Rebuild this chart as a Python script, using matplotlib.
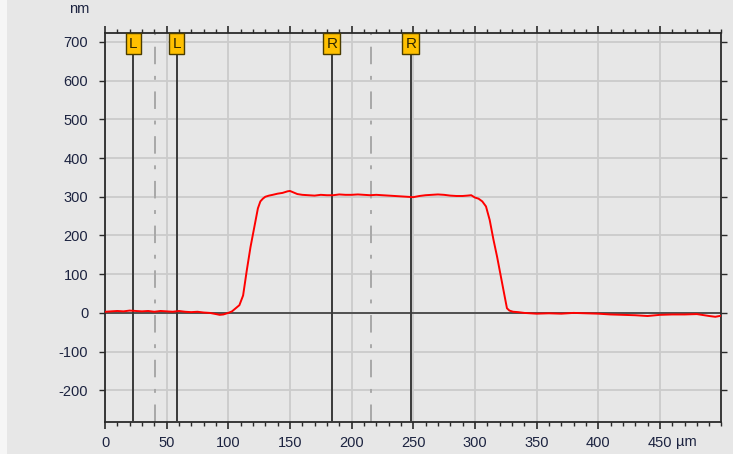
import matplotlib
matplotlib.use('Agg')
import matplotlib.pyplot as plt
from matplotlib.patches import Rectangle
from matplotlib.ticker import MultipleLocator
import matplotlib.transforms as mtransforms

plt.rcParams['font.family'] = ['Liberation Sans', 'DejaVu Sans']

#############################################################################################
# profile data (um, nm)

profile_x = [0, 5, 10, 15, 20, 25, 30, 35, 40, 45, 50, 55, 60, 65, 70, 75, 80, 85, 90, 93,
             96, 100, 103, 106, 109, 112, 115, 118, 121, 124, 126, 128, 130, 133, 136, 140,
             144, 148, 150, 153, 156, 160, 165, 170, 175, 180, 185, 190, 195, 200, 205, 210,
             215, 220, 225, 230, 235, 240, 245, 250, 255, 260, 265, 270, 275, 280, 285, 290,
             294, 297, 300, 303, 306, 309, 312, 315, 318, 321, 324, 326, 328, 331, 335, 340,
             345, 350, 360, 370, 380, 390, 400, 410, 420, 430, 440, 450, 460, 470, 480, 490,
             495, 500]
profile_y = [3, 4, 5, 4, 6, 5, 4, 5, 3, 5, 4, 3, 5, 3, 2, 3, 1, 0, -3, -5,
             -4, 0, 4, 12, 20, 45, 110, 170, 220, 270, 288, 295, 300, 303, 305, 308,
             310, 314, 315, 311, 307, 305, 304, 303, 305, 304, 304, 306, 305, 305, 306, 305,
             304, 305, 304, 303, 302, 301, 300, 299, 302, 304, 305, 306, 305, 303, 302, 302,
             303, 304, 298, 295, 288, 275, 240, 190, 145, 95, 45, 12, 6, 3, 2, 0,
             -1, -2, -1, -2, 0, -1, -2, -4, -5, -6, -8, -5, -4, -4, -3, -8,
             -10, -7]

# cursor positions (um)
cursor_x = [23, 58, 184, 248]
cursor_labels = ['L', 'L', 'R', 'R']
mid_x = [40.5, 216]

x_ticks = [0, 50, 100, 150, 200, 250, 300, 350, 400, 450]
y_ticks = [-200, -100, 0, 100, 200, 300, 400, 500, 600, 700]

#############################################################################################

bg = '#e7e7e7'
txt = '#1c2340'
fs = 10.5
fig = plt.figure(figsize=(7.33, 4.54), dpi=100, facecolor=bg)
fig.patches.append(Rectangle((0, 0), 7/733, 1, transform=fig.transFigure,
                             facecolor='#f6f6f6', edgecolor='none', zorder=0))
ax = fig.add_axes([105/733, (454-421.7)/454, (721.5-105)/733, (421.7-33)/454])
ax.set_facecolor(bg)

ax.set_xlim(0, 500)
ax.set_ylim(-281, 723)

ax.set_xticks(x_ticks)
ax.set_xticklabels([str(v) for v in x_ticks])
ax.xaxis.set_minor_locator(MultipleLocator(10))
ax.set_yticks(y_ticks)
ax.set_yticklabels([str(v) for v in y_ticks])

ax.grid(True, which='major', color='#cbcbcb', linewidth=1.3, zorder=0)
ax.set_axisbelow(True)

for s in ax.spines.values():
	s.set_color('#2a2a2a')
	s.set_linewidth(1.3)

ax.tick_params(axis='x', which='major', direction='out', length=5, width=1.2,
               color='#2a2a2a', labelcolor=txt, labelsize=fs, pad=5,
               top=True, bottom=True)
ax.tick_params(axis='x', which='minor', direction='out', length=3, width=1.0,
               color='#2a2a2a', top=True, bottom=True)
ax.tick_params(axis='y', which='major', direction='out', length=4, width=1.0,
               color='#2a2a2a', labelcolor=txt, labelsize=fs, pad=8,
               left=True, right=True)

# zero line
ax.axhline(0, color='#505050', linewidth=1.4, zorder=2)

# cursors
for xc in cursor_x:
	ax.axvline(xc, color='#3a3a3a', linewidth=1.4, zorder=3)
for xm in mid_x:
	ax.axvline(xm, color='#a8a8a8', linewidth=1.4, dashes=(9, 6, 2, 6), zorder=2)

ax.plot(profile_x, profile_y, color='#ff0000', linewidth=1.4, zorder=4)

# cursor label boxes
trans = mtransforms.blended_transform_factory(ax.transData, ax.transAxes)
for xc, lab in zip(cursor_x, cursor_labels):
	ax.text(xc, 1 - 10.5/388.7, lab, transform=trans, ha='center', va='center',
	        fontsize=11, color='#2e2600', zorder=6,
	        bbox=dict(boxstyle='square,pad=0.2', facecolor='#ffc000',
	                  edgecolor='#4a3c00', linewidth=1.0))

fig.text(79/733, 1 - 9/454, 'nm', ha='center', va='center', fontsize=fs, color=txt)
ax.text(463, -20.5/388.7, 'µm', transform=trans, ha='left', va='center',
        fontsize=fs, color=txt)

fig.savefig('out.png', dpi=100, facecolor=bg)
